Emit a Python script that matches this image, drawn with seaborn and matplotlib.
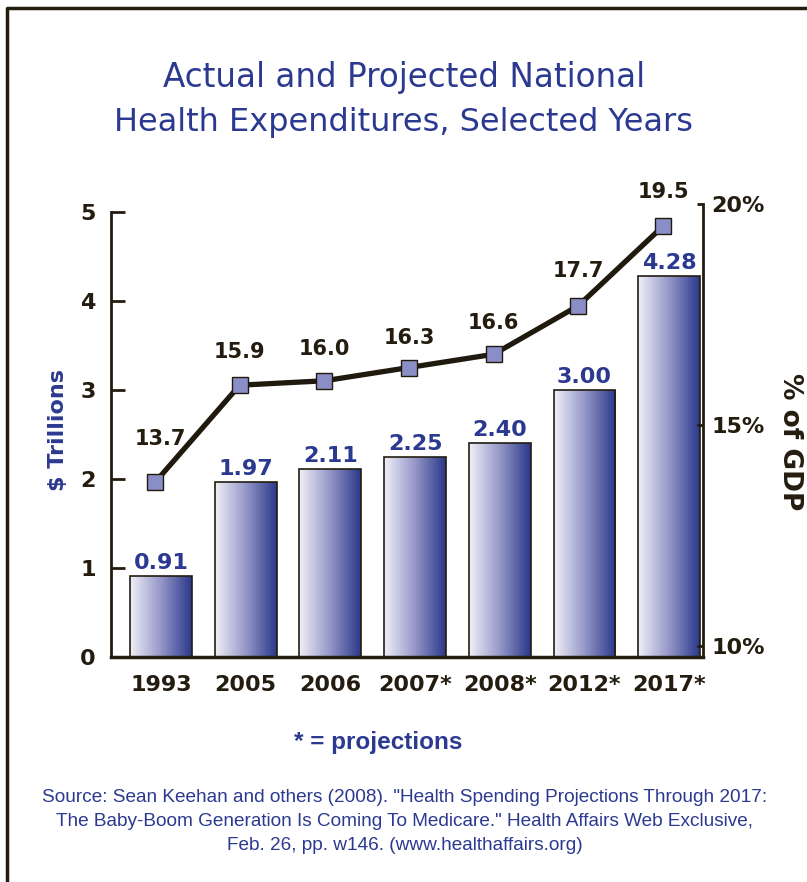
import numpy as np
import matplotlib
matplotlib.use('Agg')
import matplotlib.pyplot as plt
import seaborn as sns
from matplotlib.colors import LinearSegmentedColormap
from matplotlib.lines import Line2D
from matplotlib.transforms import ScaledTranslation

years = ['1993', '2005', '2006', '2007*', '2008*', '2012*', '2017*']
spending = [0.91, 1.97, 2.11, 2.25, 2.40, 3.00, 4.28]
gdp_share = [13.7, 15.9, 16.0, 16.3, 16.6, 17.7, 19.5]
gdp_ticks = [10, 15, 20]
gdp_tick_labels = ['10%', '15%', '20%']

NAVY = '#2b3990'
DARK = '#231c0f'

sns.set_style('white')
plt.rcParams['font.family'] = ['DejaVu Sans']

W, H = 807, 882
fig = plt.figure(figsize=(W / 100, H / 100), dpi=100)


def px_rect(l, t, r, b):
    return [l / W, 1 - b / H, (r - l) / W, (b - t) / H]


ax = fig.add_axes(px_rect(111, 212, 703, 657))
ax2 = fig.add_axes(px_rect(111, 204, 703, 657))
ax2.set_facecolor('none')

# bars with horizontal gradient
sns.barplot(x=years, y=spending, ax=ax, color=NAVY, width=0.73,
            edgecolor=DARK, linewidth=1.2, errorbar=None)
cmap = LinearSegmentedColormap.from_list('bar', ['#f0f0f8', '#9597c8', '#29388a'])
grad = np.linspace(0, 1, 256).reshape(1, -1)
for p in ax.patches:
    x0, y0 = p.get_x(), p.get_y()
    w, h = p.get_width(), p.get_height()
    p.set_facecolor('none')
    p.set_zorder(3)
    im = ax.imshow(grad, extent=[x0, x0 + w, y0, y0 + h], aspect='auto',
                   cmap=cmap, zorder=2)
    im.set_clip_path(p)

xlim = (-0.59, 6.40)
ax.set_xlim(xlim)
ax.set_ylim(0, 5)
ax.set_yticks(range(6))
ax.set_xlabel('')
ax.set_ylabel('')
for s in ['top', 'right']:
    ax.spines[s].set_visible(False)
ax.spines['left'].set_linewidth(2)
ax.spines['bottom'].set_linewidth(2.5)
ax.spines['left'].set_color(DARK)
ax.spines['bottom'].set_color(DARK)
ax.tick_params(axis='y', direction='in', length=10, width=2, color=DARK,
               pad=11, labelsize=16, labelcolor=DARK, left=True)
ax.tick_params(axis='x', length=0, pad=13, labelsize=16, labelcolor=DARK)
for lbl in ax.get_xticklabels() + ax.get_yticklabels():
    lbl.set_fontweight('bold')

for i, v in enumerate(spending):
    ax.annotate(f'{v:.2f}', (i, v), xytext=(0, 5), textcoords='offset points',
                ha='center', va='baseline', fontsize=16, fontweight='bold',
                color=NAVY, zorder=5)

# % of GDP line
sns.lineplot(x=list(range(len(years))), y=gdp_share, ax=ax2, color='#201a0e',
             linewidth=3.8, marker='s', markersize=11,
             markerfacecolor='#8a8ec6', markeredgecolor='#201a0e',
             markeredgewidth=1)
shift = ax2.transData + ScaledTranslation(-6 / 100, 0, fig.dpi_scale_trans)
for ln in ax2.lines:
    ln.set_transform(shift)

label_dy = [43, 33, 32, 30, 31, 35, 34]
label_dx = [5, 0, 0, 0, 0, 0, 0]
for i, v in enumerate(gdp_share):
    ax2.annotate(f'{v:.1f}', (i, v),
                 xytext=((label_dx[i] - 6) * 0.72, label_dy[i] * 0.72),
                 textcoords='offset points', ha='center', va='center',
                 fontsize=15, fontweight='bold', color=DARK)

ax2.set_xlim(xlim)
ax2.set_ylim(9.75, 20)
ax2.set_xlabel('')
ax2.set_ylabel('')
for s in ['top', 'left', 'bottom']:
    ax2.spines[s].set_visible(False)
ax2.spines['right'].set_linewidth(2)
ax2.spines['right'].set_color(DARK)
ax2.set_xticks([])
ax2.yaxis.tick_right()
ax2.set_yticks(gdp_ticks)
ax2.set_yticklabels(gdp_tick_labels, fontsize=16, fontweight='bold', color=DARK)
ax2.tick_params(axis='y', direction='in', length=4, width=2, color=DARK,
                pad=6, right=True)

# axis titles
fig.text(58 / W, 1 - 430 / H, '$ Trillions', rotation=90, ha='center', va='center',
         fontsize=16, fontweight='bold', color=NAVY)
fig.text(790 / W, 1 - 442 / H, '% of GDP', rotation=270, ha='center', va='center',
         fontsize=19, fontweight='bold', color=DARK)

# title
fig.text(404 / W, 1 - 78 / H, 'Actual and Projected National', ha='center',
         va='center', fontsize=23.5, color=NAVY)
fig.text(404 / W, 1 - 122 / H, 'Health Expenditures, Selected Years', ha='center',
         va='center', fontsize=23, color=NAVY)

# notes
fig.text(378 / W, 1 - 742 / H, '* = projections', ha='center', va='center',
         fontsize=17.5, fontweight='bold', color=NAVY, family='Liberation Sans')
source = ['Source: Sean Keehan and others (2008). "Health Spending Projections Through 2017:',
          'The Baby-Boom Generation Is Coming To Medicare." Health Affairs Web Exclusive,',
          'Feb. 26, pp. w146. (www.healthaffairs.org)']
for k, line in enumerate(source):
    fig.text(405 / W, 1 - (797 + 24.5 * k) / H, line, ha='center', va='center',
             fontsize=13.7, color=NAVY, family='Liberation Sans')

# frame
fig.add_artist(Line2D([7 / W, 7 / W, 1], [0, 1 - 8 / H, 1 - 8 / H],
                      transform=fig.transFigure, color=DARK, linewidth=2.5))

fig.savefig('out.png', dpi=100)
